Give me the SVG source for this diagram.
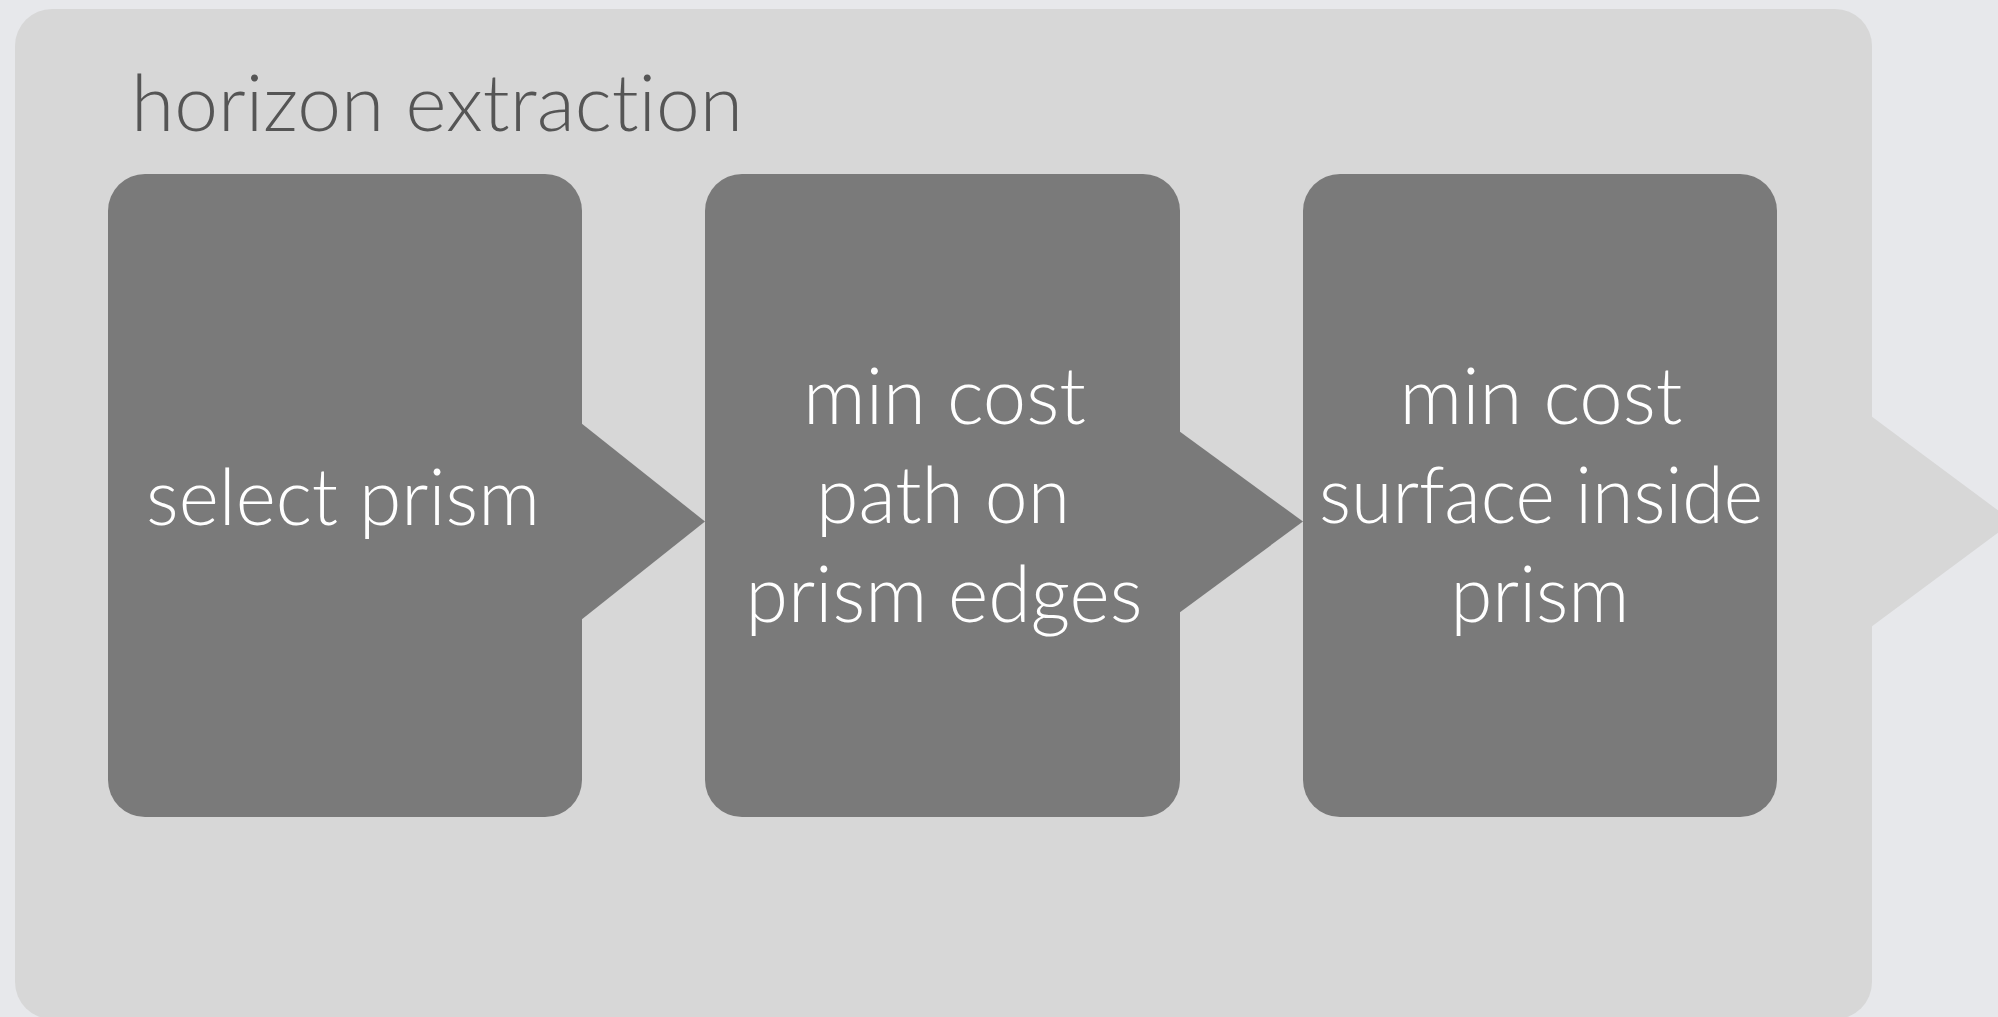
<svg xmlns="http://www.w3.org/2000/svg" width="1998" height="1017" viewBox="0 0 1998 1017">
  <style>
    .panel { fill: #d7d7d7; }
    .node { fill: #7a7a7a; }
    .arrow { fill: #7a7a7a; }
    .title { font-family: "Lato", "Open Sans", "Liberation Sans", sans-serif; font-weight: 300; font-size: 79px; fill: #555555; font-variant-ligatures: none; }
    .label { font-family: "Lato", "Open Sans", "Liberation Sans", sans-serif; font-weight: 300; font-size: 79px; fill: #ffffff; text-anchor: middle; font-variant-ligatures: none; }
  </style>
  <rect x="0" y="0" width="1998" height="1017" fill="#e7e8eb"/>
  <g id="panel">
    <rect class="panel" x="15" y="9" width="1857" height="1010" rx="37" ry="37"/>
    <polygon class="panel" points="1871,416 2013,521.5 1871,627"/>
    <text class="title" x="131" y="131" textLength="612" lengthAdjust="spacingAndGlyphs">horizon extraction</text>
  </g>
  <g id="connectors">
    <polygon class="arrow" points="581,423 705,521.5 581,620"/>
    <polygon class="arrow" points="1179,431 1303,521.5 1179,613"/>
  </g>
  <g id="node-select-prism">
    <rect class="node" x="108" y="174" width="474" height="643" rx="37" ry="37"/>
    <text class="label" x="343" y="525" textLength="394" lengthAdjust="spacingAndGlyphs">select prism</text>
  </g>
  <g id="node-min-cost-path">
    <rect class="node" x="705" y="174" width="475" height="643" rx="37" ry="37"/>
    <text class="label" x="944.5" y="424" textLength="283" lengthAdjust="spacingAndGlyphs">min cost</text>
    <text class="label" x="943" y="523" textLength="254" lengthAdjust="spacingAndGlyphs">path on</text>
    <text class="label" x="944" y="622" textLength="397" lengthAdjust="spacingAndGlyphs">prism edges</text>
  </g>
  <g id="node-min-cost-surface">
    <rect class="node" x="1303" y="174" width="474" height="643" rx="37" ry="37"/>
    <text class="label" x="1541" y="424" textLength="283" lengthAdjust="spacingAndGlyphs">min cost</text>
    <text class="label" x="1541" y="523" textLength="444" lengthAdjust="spacingAndGlyphs">surface inside</text>
    <text class="label" x="1540" y="622" textLength="179" lengthAdjust="spacingAndGlyphs">prism</text>
  </g>
</svg>
